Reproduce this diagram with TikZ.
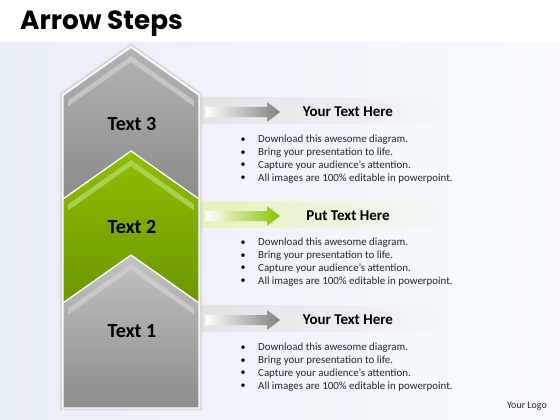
\documentclass[tikz,border=0pt]{standalone}
\usepackage{fontspec}
\usetikzlibrary{fadings}
\setmainfont{Carlito}
\newfontfamily\titlefont{Poppins}
\definecolor{bgblue}{HTML}{E8EEF7}
\definecolor{bgwhite}{HTML}{F8FAFD}
\definecolor{gtop}{HTML}{B4B4B4}
\definecolor{gbot}{HTML}{8A8A8A}
\definecolor{g1top}{HTML}{C2C2C2}
\definecolor{g1bot}{HTML}{8C8C8C}
\definecolor{gstripe}{HTML}{D2D2D2}
\definecolor{grtop}{HTML}{8FBE00}
\definecolor{grbot}{HTML}{6C9600}
\definecolor{grstripe}{HTML}{BCDC78}
\definecolor{bandgray}{HTML}{E4E4E4}
\definecolor{bandgreen}{HTML}{E6F4BC}
\definecolor{arrgray}{HTML}{808080}
\definecolor{arrgreen}{HTML}{8CC000}
\tikzfading[name=fadeeast, left color=transparent!0, right color=transparent!100]
\tikzset{
  lbl/.style={font=\bfseries\fontsize{20}{23}\selectfont, text=black},
  head/.style={font=\bfseries\fontsize{15}{18}\selectfont, text=black},
  bul/.style={font=\fontsize{10.9}{13}\selectfont, text=black!85, anchor=west, align=left},
}
\newcommand\chevronpiece[5]{%
  \shade[top color=#3,bottom color=#4] (131,#1) -- (199,{#1+48}) -- (199,#2) -- (63,#2) -- (63,{#1+48}) -- cycle;
  \fill[#5,opacity=.7] (131,{#1+9}) -- (194,{#1+9+44.5}) -- (194,{#1+15+44.5}) -- (131,{#1+15}) -- (68,{#1+15+44.5}) -- (68,{#1+9+44.5}) -- cycle;
  \draw[white,line width=1.3pt,line join=miter] (63,{#1+48}) -- (131,#1) -- (199,{#1+48});
}
\newcommand\bandarrow[3]{% #1 y centre, #2 band colour, #3 arrow colour
  \fill[#2,path fading=fadeeast] (200,{#1-15}) rectangle (450,{#1+12});
  \shade[left color=white,right color=#3] (205,{#1-5}) -- (267,{#1-5}) -- (267,{#1-10}) -- (280,#1) -- (267,{#1+10}) -- (267,{#1+5}) -- (205,{#1+5}) -- cycle;
}
\begin{document}
\begin{tikzpicture}[x=1pt,y=-1pt]
\useasboundingbox (0,0) rectangle (560,420);
% background
\shade[left color=bgblue,right color=bgwhite] (0,42) rectangle (560,420);
\fill[white] (0,0) rectangle (560,42);
\node[anchor=base west,inner sep=0pt,font=\titlefont\bfseries\fontsize{26.3}{30}\selectfont] (title) at (20,30) {Arrow Steps};
% right bands and arrows
\bandarrow{112}{bandgray}{arrgray}
\bandarrow{216}{bandgreen}{arrgreen}
\bandarrow{320}{bandgray}{arrgray}
% column shadow
\draw[black!15,line width=2.5pt,line join=miter] (61,409) -- (61,94) -- (131,45) -- (201,94) -- (201,409) -- cycle;
% chevrons
\chevronpiece{47}{200}{gtop}{gbot}{gstripe}
\chevronpiece{151}{304}{grtop}{grbot}{grstripe}
\chevronpiece{255}{408}{g1top}{g1bot}{gstripe}
\draw[white,line width=1.3pt,line join=miter] (131,47) -- (199,95) -- (199,408) -- (63,408) -- (63,95) -- cycle;
% labels
\node[lbl] (t3) at (132,124) {Text 3};
\node[lbl] (t2) at (132,227) {Text 2};
\node[lbl] (t1) at (132,331) {Text 1};
% headers
\node[head] (h3) at (348,112) {Your Text Here};
\node[head] (h2) at (348,216) {Put Text Here};
\node[head] (h1) at (348,320) {Your Text Here};
% bullets
\foreach \y/\n in {140/a,243/b,348/c}{
  \foreach \t [count=\i from 0] in {Download this awesome diagram.,Bring your presentation to life.,Capture your audience’s attention.,All images are 100\% editable in powerpoint.}{
    \node[bul,inner sep=0pt] (b\n\i) at (258,{\y+\i*12.8}) {\t};
    \node[inner sep=0pt,font=\fontsize{10}{12}\selectfont] (d\n\i) at (243,{\y+\i*12.8}) {•};
  }
}
\node[inner sep=0pt,font=\fontsize{10}{12}\selectfont,text=black!85] (logo) at (527,406) {Your Logo};
\end{tikzpicture}
\end{document}
